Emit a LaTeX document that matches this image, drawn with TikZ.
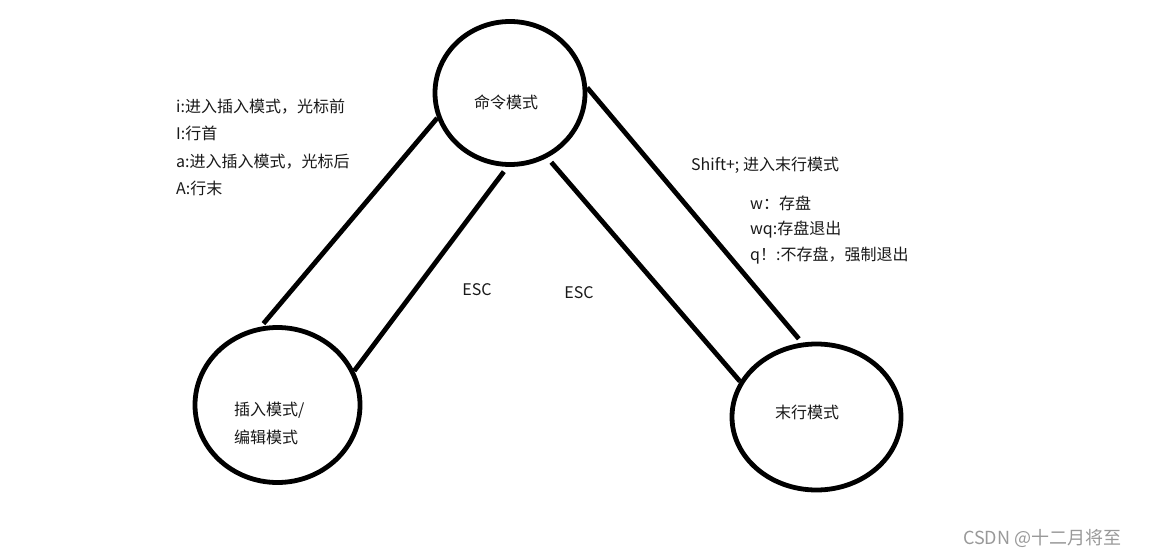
\documentclass[tikz,border=0pt]{standalone}
\usepackage{fontspec}
\setmainfont{Noto Sans CJK SC}
\usetikzlibrary{shapes.geometric}
\begin{document}
\begin{tikzpicture}[x=1pt,y=-1pt,
  state/.style={draw, ellipse, line width=4.8pt, inner sep=0pt},
  lbl/.style={font=\fontsize{16}{19}\selectfont, text=black!90, inner sep=0pt},
  conn/.style={line width=4.8pt}]
\useasboundingbox[fill=white] (0,0) rectangle (1150,559);
% states
\node[state, minimum width=150pt, minimum height=143pt] (cmd) at (510,93) {};
\node[state, minimum width=165pt, minimum height=155pt] (ins) at (277.5,405) {};
\node[state, minimum width=169pt, minimum height=146pt] (last) at (816.5,417) {};
% state labels
\node[lbl] (cmdt) at (506,102) {命令模式};
\node[lbl, anchor=west] (inst1) at (234,410) {插入模式/};
\node[lbl, anchor=west] (inst2) at (234,437) {编辑模式};
\node[lbl] (lastt) at (807,412) {末行模式};
% connectors
\draw[conn, shorten >=4pt] (cmd.199) -- (ins.102);
\draw[conn, shorten >=6pt] (ins.24) -- (cmd.268);
\draw[conn, shorten <=6pt] (cmd.-60) -- (last.155);
\draw[conn, shorten >=5pt] (cmd.4) -- (last.101);
% ESC labels
\node[lbl] (esc1) at (477,290) {ESC};
\node[lbl] (esc2) at (579,293) {ESC};
% left notes
\node[lbl, anchor=west] (n1) at (176,107) {i:进入插入模式，光标前};
\node[lbl, anchor=west] (n2) at (176,133) {I:行首};
\node[lbl, anchor=west] (n3) at (176,162) {a:进入插入模式，光标后};
\node[lbl, anchor=west] (n4) at (176,188) {A:行末};
% right notes
\node[lbl, anchor=west] (r1) at (691,165) {Shift+;\ 进入末行模式};
\node[lbl, anchor=west] (r2) at (750,203) {w：存盘};
\node[lbl, anchor=west] (r3) at (750,230) {wq:存盘退出};
\node[lbl, anchor=west] (r4) at (750,256) {q！:不存盘，强制退出};
% watermark
\node[font=\fontsize{18}{21}\selectfont, text=black!40, inner sep=0pt, anchor=west] (wm) at (963,538) {CSDN @十二月将至};
\end{tikzpicture}
\end{document}
